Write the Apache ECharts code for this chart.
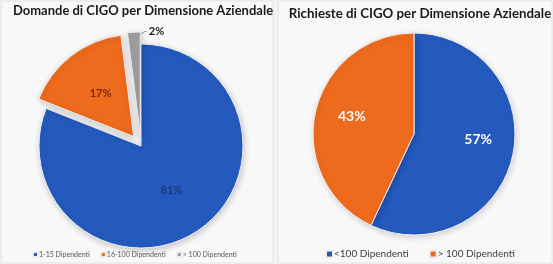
<!DOCTYPE html>
<html>
<head>
<meta charset="utf-8">
<script src="https://cdn.jsdelivr.net/npm/echarts@6/dist/echarts.min.js"></script>
<style>
  html, body { margin: 0; padding: 0; background: #f4f4f4; }
  #main { width: 553px; height: 264px; }
</style>
</head>
<body>
<div id="main"></div>
<script>
// left chart: Domande di CIGO
var domandeNomi = ["1-15 Dipendenti", "16-100 Dipendenti", "> 100 Dipendenti"];
var domandeValori = [81, 17, 2];
// right chart: Richieste di CIGO
var richiesteNomi = ["<100 Dipendenti", "> 100 Dipendenti"];
var richiesteValori = [57, 43];

var blu = "#2459be", arancio = "#ee6a1c", grigio = "#9f9f9f";
var coloriSx = [blu, arancio, grigio];
var coloriDx = [blu, arancio];
var font = "Lato";

var chart = echarts.init(document.getElementById("main"));

var datiSx = domandeNomi.map(function (n, i) {
  return { name: n, value: domandeValori[i], itemStyle: { color: coloriSx[i] } };
});
datiSx[0].label = { color: "#1b2b5c" };
datiSx[1].selected = true;
datiSx[1].label = { color: "#7a2a10", fontWeight: "bold", offset: [-18, -11] };
datiSx[2].selected = true;
datiSx[2].label = { position: "outside", color: "#222", fontWeight: "bold" };
datiSx[2].labelLine = { show: true, lineStyle: { color: "#999", width: 1 } };

var datiDx = richiesteNomi.map(function (n, i) {
  return { name: n, value: richiesteValori[i], itemStyle: { color: coloriDx[i] } };
});
datiDx[0].label = { offset: [12, -6] };
datiDx[1].label = { offset: [-10, -6] };

// same name "> 100 Dipendenti" is in both pies, so give the legend its own colours
var legendaDx = richiesteNomi.map(function (n, i) {
  return { name: n, itemStyle: { color: coloriDx[i] } };
});

chart.setOption({
  backgroundColor: "#f4f4f4",
  animation: false,
  graphic: [
    { type: "rect", shape: { x: 1, y: 1, width: 272, height: 262 }, style: { fill: "#f8f8f8", stroke: "#e4e4e4" }, z: -10 },
    { type: "rect", shape: { x: 278, y: 1, width: 274, height: 262 }, style: { fill: "#f8f8f8", stroke: "#e4e4e4" }, z: -10 }
  ],
  title: [
    {
      text: "Domande di CIGO per Dimensione Aziendale",
      left: 138, top: -1, textAlign: "center",
      textStyle: { fontFamily: font, fontSize: 13, fontWeight: "bold", color: "#1a1a1a" }
    },
    {
      text: "Richieste di CIGO per Dimensione Aziendale",
      left: 415, top: 2, textAlign: "center",
      textStyle: { fontFamily: font, fontSize: 13.3, fontWeight: "bold", color: "#1a1a1a" }
    }
  ],
  legend: [
    {
      data: domandeNomi,
      left: 32, top: 251, padding: 0,
      itemWidth: 5, itemHeight: 5, itemGap: 10,
      icon: "rect",
      textStyle: { fontFamily: font, fontSize: 7, color: "#595959", padding: [0, 0, 0, -4] }
    },
    {
      data: legendaDx,
      left: 325, top: 249, padding: 0,
      itemWidth: 7, itemHeight: 7, itemGap: 20,
      icon: "rect",
      textStyle: { fontFamily: font, fontSize: 10, color: "#404040", padding: [0, 0, 0, -4] }
    }
  ],
  series: [
    {
      name: "Domande",
      type: "pie",
      center: [141, 146],
      radius: 102,
      startAngle: 90,
      selectedMode: "multiple",
      selectedOffset: 12,
      data: datiSx,
      label: { show: true, position: "inside", formatter: "{d}%", fontFamily: font, fontSize: 11 },
      labelLine: { show: false },
      // 2% label sits to the right of the thin grey slice, as in the original
      labelLayout: function (p) {
        if (p.dataIndex !== 2) return {};
        var r = p.rect, lr = p.labelRect;
        var x0 = r.x + r.width, y0 = r.y;
        return {
          dx: (x0 + 8) - lr.x,
          dy: y0 - (lr.y + lr.height / 2),
          labelLinePoints: [[x0 - 1, y0 + 3], [x0 + 4, y0], [x0 + 6, y0]]
        };
      },
      itemStyle: {
        borderColor: "#eeeeee", borderWidth: 1,
        shadowBlur: 6, shadowColor: "rgba(0,0,0,0.2)", shadowOffsetX: 1, shadowOffsetY: 2
      },
      emphasis: { disabled: true }
    },
    {
      name: "Richieste",
      type: "pie",
      center: [414, 134],
      radius: 101,
      startAngle: 90,
      data: datiDx,
      label: { show: true, position: "inside", formatter: "{d}%", fontFamily: font, fontSize: 14, fontWeight: "bold", color: "#ffffff" },
      labelLine: { show: false },
      itemStyle: {
        borderColor: "#f0f0f0", borderWidth: 1,
        shadowBlur: 6, shadowColor: "rgba(0,0,0,0.15)", shadowOffsetX: 1, shadowOffsetY: 2
      },
      emphasis: { disabled: true }
    }
  ]
});
</script>
</body>
</html>
